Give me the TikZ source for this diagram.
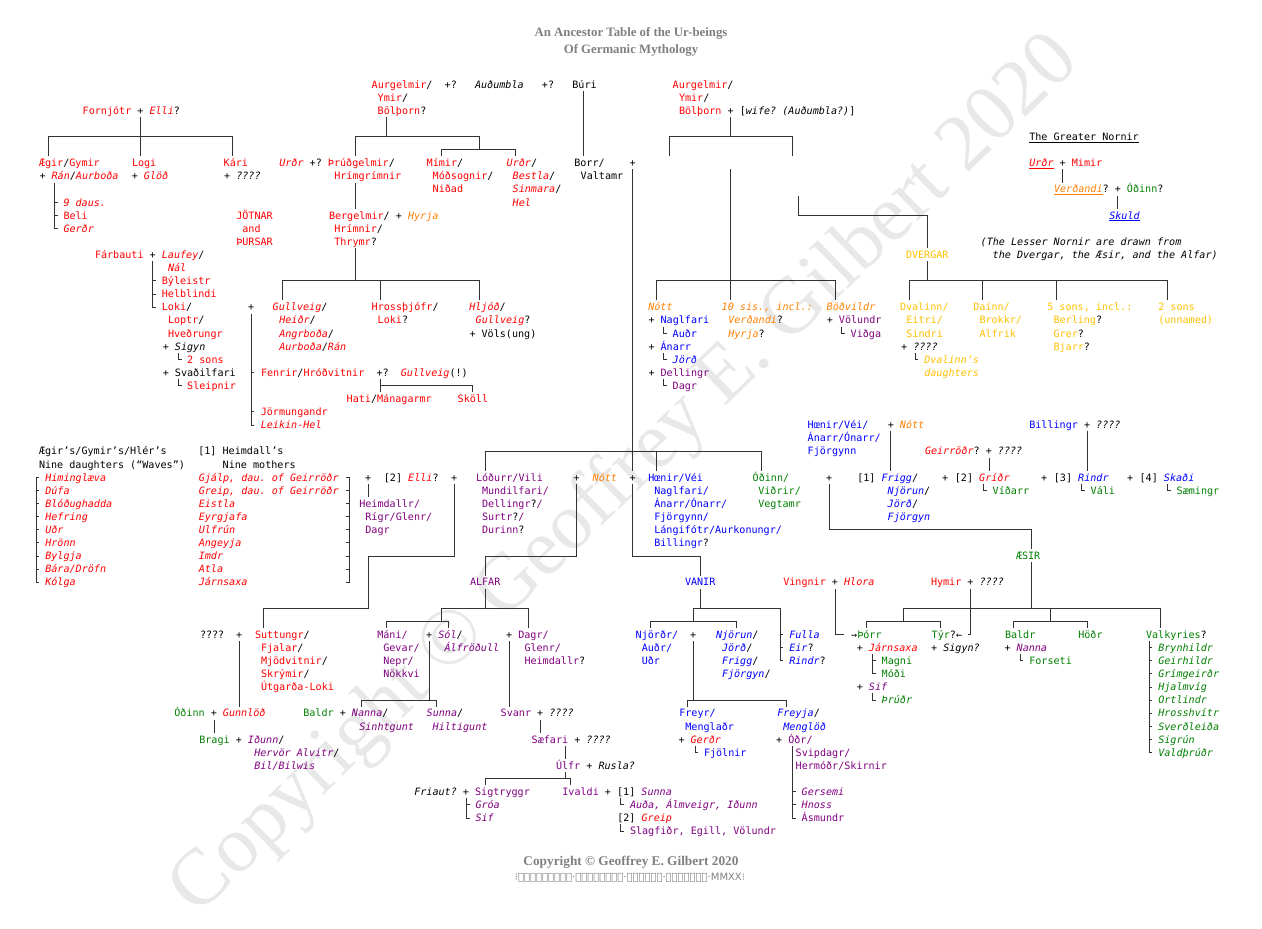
\documentclass[tikz,border=0pt]{standalone}
\usepackage{fontspec}
\setmonofont{DejaVu Sans Mono}
\newfontfamily\serifT{Liberation Serif}
\newfontfamily\runeF{DejaVu Sans}
\definecolor{cR}{RGB}{255,0,0}
\definecolor{cO}{RGB}{255,128,0}
\definecolor{cY}{RGB}{255,192,0}
\definecolor{cP}{RGB}{128,0,128}
\definecolor{cB}{RGB}{0,0,255}
\definecolor{cG}{RGB}{0,128,0}
\definecolor{cT}{RGB}{128,128,128}
\definecolor{cW}{RGB}{232,232,232}
\newcommand\xr[1]{\textcolor{cR}{#1}}
\newcommand\xri[1]{\textcolor{cR}{\itshape #1}}
\newcommand\xoi[1]{\textcolor{cO}{\itshape #1}}
\newcommand\xy[1]{\textcolor{cY}{#1}}
\newcommand\xyi[1]{\textcolor{cY}{\itshape #1}}
\newcommand\xp[1]{\textcolor{cP}{#1}}
\newcommand\xpi[1]{\textcolor{cP}{\itshape #1}}
\newcommand\xb[1]{\textcolor{cB}{#1}}
\newcommand\xbi[1]{\textcolor{cB}{\itshape #1}}
\newcommand\xg[1]{\textcolor{cG}{#1}}
\newcommand\xgi[1]{\textcolor{cG}{\itshape #1}}
\newcommand\xk[1]{{\itshape #1}}
\tikzset{
 t/.style={anchor=base west,inner sep=0pt,outer sep=0pt,yshift=-3.8pt,font=\ttfamily\fontsize{10.1}{12}\selectfont,text=black},
 ln/.style={draw=black!80,line width=0.75pt},
 ttl/.style={font=\serifT\bfseries\fontsize{12.8}{14}\selectfont,text=cT,inner sep=0pt},
}
\newcommand\nd[4]{\node[t] (#1) at (#2,#3) {#4};}
\begin{document}
\begin{tikzpicture}[x=1pt,y=-13.1pt]
\fill[white] (0,-6.43511) rectangle (1262,64.4809);
\useasboundingbox (0,-6.43511) rectangle (1262,64.4809);
% watermark
\node[rotate=44,text=cW,font=\serifT\fontsize{80}{84}\selectfont] (wm) at (626,29.9) {Copyright © Geoffrey E. Gilbert 2020};
% title and footer
\node[ttl] (title1) at (631,-3.92) {An Ancestor Table of the Ur-beings};
\node[ttl] (title2) at (631,-2.55) {Of Germanic Mythology};
\node[ttl,font=\serifT\bfseries\fontsize{13.3}{15}\selectfont] (copy) at (631,59.37) {Copyright © Geoffrey E. Gilbert 2020};
\node[text=cT,font=\runeF\fontsize{10}{12}\selectfont,inner sep=0pt] (runes) at (630,60.59) {⁝ᚲᛟᛈᛃᚱᛁᚷᚺᛏ·ᚷᛖᛟᚠᚠᚱᛖᛃ·ᛖᛞᚹᚨᚱᛞ·ᚷᛁᛚᛒᛖᚱᛏ·MMXX⁝};
% ---------- text ----------
\nd{aurg}{371.7}{0}{\xr{Aurgelmir}/~~+?~~~\xk{Auðumbla}~~~+?~~~Búri}
\nd{ymir}{377.7}{1}{\xr{Ymir}/}
\nd{bolth}{377.7}{2}{\xr{Bölþorn}?}
\nd{aurgR}{672.7}{0}{\xr{Aurgelmir}/}
\nd{ymirR}{679}{1}{\xr{Ymir}/}
\nd{bolthR}{679}{2}{\xr{Bölþorn} + [\xk{wife? (Auðumbla?)}]}
\nd{fornj}{82.7}{2}{\xr{Fornjótr} + \xri{Elli}?}
\nd{aegir}{39}{6}{\xr{Ægir}/\xr{Gymir}}
\nd{ran}{39.5}{7}{+ \xri{Rán}/\xri{Aurboða}}
\nd{logi}{132}{6}{\xr{Logi}}
\nd{glod}{131.8}{7}{+ \xri{Glöð}}
\nd{kari}{223.7}{6}{\xr{Kári}}
\nd{karw}{224.1}{7}{+ \xk{????}}
\nd{daus}{63.5}{9}{\xri{9 daus.}}
\nd{beli}{63.5}{10}{\xr{Beli}}
\nd{gerdA}{63.5}{11}{\xri{Gerðr}}
\nd{jot1}{236.3}{10}{\xr{JÖTNAR}}
\nd{jot2}{242.4}{11}{\xr{and}}
\nd{jot3}{236.3}{12}{\xr{ÞURSAR}}
\nd{farb}{95}{13}{\xr{Fárbauti} + \xri{Laufey}/}
\nd{nal}{168}{14}{\xri{Nál}}
\nd{byl}{161.9}{15}{\xr{Býleistr}}
\nd{helb}{161.9}{16}{\xr{Helblindi}}
\nd{loki}{161.9}{17}{\xr{Loki}/}
\nd{loptr}{168}{18}{\xr{Loptr}/}
\nd{hved}{168}{19}{\xr{Hveðrungr}}
\nd{sigynA}{162.8}{20}{+ \xk{Sigyn}}
\nd{sons2}{187.2}{21}{\xr{2 sons}}
\nd{svad}{162.8}{22}{+ Svaðilfari}
\nd{sleip}{187.2}{23}{\xr{Sleipnir}}
\nd{urdA}{279.3}{6}{\xri{Urðr} +? \xr{Þrúðgelmir}/}
\nd{hrimg}{334.3}{7}{\xr{Hrímgrímnir}}
\nd{mimA}{426.7}{6}{\xr{Mímir}/}
\nd{modA}{432.7}{7}{\xr{Móðsognir}/}
\nd{nidA}{432.7}{8}{\xr{Niðad}}
\nd{urdB}{506.7}{6}{\xri{Urðr}/}
\nd{bestA}{512.7}{7}{\xri{Bestla}/}
\nd{sinA}{512.7}{8}{\xri{Sinmara}/}
\nd{helA}{512.7}{9}{\xri{Hel}}
\nd{borr}{574.3}{6}{Borr/}
\nd{valt}{580.7}{7}{Valtamr}
\nd{borrp}{629.7}{6}{+}
\nd{bergel}{329}{10}{\xr{Bergelmir}/ + \xoi{Hyrja}}
\nd{hrimn}{334.3}{11}{\xr{Hrímnir}/}
\nd{thrym}{334.3}{12}{\xr{Thrymr}?}
\nd{gullp}{248}{17}{+}
\nd{gullA}{272.7}{17}{\xri{Gullveig}/}
\nd{heidr}{279.3}{18}{\xri{Heiðr}/}
\nd{angr}{279.3}{19}{\xri{Angrboða}/}
\nd{aurbo}{279.3}{20}{\xri{Aurboða}/\xri{Rán}}
\nd{hross}{371.7}{17}{\xr{Hrossþjófr}/}
\nd{lokiB}{377.7}{18}{\xr{Loki}?}
\nd{hljod}{469.3}{17}{\xri{Hljóð}/}
\nd{gullB}{475.7}{18}{\xri{Gullveig}?}
\nd{vols}{469.5}{19}{+ Völs(ung)}
\nd{fenrir}{261}{22}{\xr{Fenrir}/\xr{Hróðvitnir}~~+?~~\xri{Gullveig}(!)}
\nd{hati}{346.7}{24}{\xr{Hati}/\xr{Mánagarmr}}
\nd{skoll}{457.7}{24}{\xr{Sköll}}
\nd{jorm}{260.8}{25}{\xr{Jörmungandr}}
\nd{leik}{260.8}{26}{\xri{Leikin-Hel}}
% nine daughters / mothers
\nd{aeg2}{39}{28}{Ægir’s/Gymir’s/Hlér’s}
\nd{nined}{39}{29}{Nine daughters (“Waves”)}
\nd{w1}{45.3}{30}{\xri{Himinglæva}}
\nd{w2}{45.3}{31}{\xri{Dúfa}}
\nd{w3}{45.3}{32}{\xri{Blóðughadda}}
\nd{w4}{45.3}{33}{\xri{Hefring}}
\nd{w5}{45.3}{34}{\xri{Uðr}}
\nd{w6}{45.3}{35}{\xri{Hrönn}}
\nd{w7}{45.3}{36}{\xri{Bylgja}}
\nd{w8}{45.3}{37}{\xri{Bára/Dröfn}}
\nd{w9}{45.3}{38}{\xri{Kólga}}
\nd{heim1}{198.3}{28}{[1] Heimdall’s}
\nd{ninem}{222.7}{29}{Nine mothers}
\nd{m1}{198.8}{30}{\xri{Gjálp, dau. of Geirröðr}}
\nd{m2}{198.8}{31}{\xri{Greip, dau. of Geirröðr}}
\nd{m3}{198.8}{32}{\xri{Eistla}}
\nd{m4}{198.8}{33}{\xri{Eyrgjafa}}
\nd{m5}{198.8}{34}{\xri{Ulfrún}}
\nd{m6}{198.8}{35}{\xri{Angeyja}}
\nd{m7}{198.8}{36}{\xri{Imdr}}
\nd{m8}{198.8}{37}{\xri{Atla}}
\nd{m9}{198.8}{38}{\xri{Járnsaxa}}
\nd{heimp}{365.2}{30}{+}
\nd{elli}{383.9}{30}{[2] \xri{Elli}?}
\nd{ellip}{451}{30}{+}
\nd{heimd}{359.3}{32}{\xp{Heimdallr/}}
\nd{rigr}{365.4}{33}{\xp{Rígr/Glenr/}}
\nd{dagrA}{365.4}{34}{\xp{Dagr}}
\nd{lodurr}{476}{30}{\xp{Lóðurr/Vili}}
\nd{mund}{482}{31}{\xp{Mundilfari/}}
\nd{dell}{482}{32}{\xp{Dellingr}?\xp{/}}
\nd{surtr}{482}{33}{\xp{Surtr}?\xp{/}}
\nd{durinn}{482}{34}{\xp{Durinn}?}
\nd{durp}{573.6}{30}{+}
\nd{nottA}{592.7}{30}{\xoi{Nótt}}
\nd{nottp}{629.7}{30}{+}
\nd{alfar}{470}{38}{\xp{ALFAR}}
\nd{hoenA}{648.3}{30}{\xb{Hœnir/Véi}}
\nd{nagA}{654.3}{31}{\xb{Naglfari/}}
\nd{anarA}{654.3}{32}{\xb{Ánarr/Ónarr/}}
\nd{fjorgA}{654.3}{33}{\xb{Fjörgynn/}}
\nd{lang}{654.3}{34}{\xb{Lángifótr/Aurkonungr/}}
\nd{billA}{654.3}{35}{\xb{Billingr}?}
\nd{odinA}{752.7}{30}{\xg{Óðinn/}}
\nd{vidrir}{758.3}{31}{\xg{Viðrir/}}
\nd{vegt}{758.3}{32}{\xg{Vegtamr}}
\nd{odinp}{826.2}{30}{+}
\nd{frigg}{857.3}{30}{[1] \xbi{Frigg}/}
\nd{njorA}{887.7}{31}{\xbi{Njörun}/}
\nd{jordA}{887.7}{32}{\xbi{Jörð}/}
\nd{fjgA}{887.7}{33}{\xbi{Fjörgyn}}
\nd{p2}{942}{30}{+}
\nd{gridr}{954.9}{30}{[2] \xri{Gríðr}}
\nd{vidarr}{992.7}{31}{\xg{Víðarr}}
\nd{p3}{1041}{30}{+}
\nd{rindA}{1053.9}{30}{[3] \xbi{Rindr}}
\nd{vali}{1090.7}{31}{\xg{Váli}}
\nd{p4}{1127}{30}{+}
\nd{skadi}{1139.6}{30}{[4] \xbi{Skaði}}
\nd{saem}{1176.7}{31}{\xg{Sæmingr}}
\nd{hoenB}{807.7}{26}{\xb{Hœnir/Véi/}}
\nd{anarB}{807.7}{27}{\xb{Ánarr/Ónarr/}}
\nd{fjorgB}{807.7}{28}{\xb{Fjörgynn}}
\nd{nottB}{887.8}{26}{+ \xoi{Nótt}}
\nd{geir}{925}{28}{\xri{Geirröðr}? + \xk{????}}
\nd{billB}{1029.3}{26}{\xb{Billingr} + \xk{????}}
% Nott and Dvergar group
\nd{nottC}{648.3}{17}{\xoi{Nótt}}
\nd{nagB}{648.5}{18}{+ \xb{Naglfari}}
\nd{audrA}{672.7}{19}{\xb{Auðr}}
\nd{anarC}{648.5}{20}{+ \xb{Ánarr}}
\nd{jordB}{672.7}{21}{\xbi{Jörð}}
\nd{dellB}{648.5}{22}{+ \xp{Dellingr}}
\nd{dagrB}{672.7}{23}{\xp{Dagr}}
\nd{sis}{721.7}{17}{\xoi{10 sis., incl.:}}
\nd{verdA}{728.3}{18}{\xoi{Verðandi}?}
\nd{hyrja}{728.3}{19}{\xoi{Hyrja}?}
\nd{bodv}{826.7}{17}{\xoi{Böðvildr}}
\nd{volu}{826.8}{18}{+ \xp{Völundr}}
\nd{vidga}{850.7}{19}{\xp{Viðga}}
\nd{dverg}{906}{13}{\xy{DVERGAR}}
\nd{dval}{900}{17}{\xy{Dvalinn/}}
\nd{eitri}{906.4}{18}{\xy{Eitri/}}
\nd{sindri}{906.4}{19}{\xy{Sindri}}
\nd{dvalw}{901.1}{20}{+ \xk{????}}
\nd{dvald}{924.3}{21}{\xyi{Dvalinn’s}}
\nd{daug}{924.3}{22}{\xyi{daughters}}
\nd{dainn}{973.3}{17}{\xy{Daínn/}}
\nd{brokk}{979.5}{18}{\xy{Brokkr/}}
\nd{alfr}{979.5}{19}{\xy{Alfrik}}
\nd{sons5}{1047.3}{17}{\xy{5 sons, incl.:}}
\nd{berl}{1053.5}{18}{\xy{Berling}?}
\nd{grer}{1053.5}{19}{\xy{Grer}?}
\nd{bjarr}{1053.5}{20}{\xy{Bjarr}?}
\nd{sons2b}{1158.3}{17}{\xy{2 sons}}
\nd{unn}{1158.3}{18}{\xy{(unnamed)}}
% Nornir
\nd{gnorn}{1029.3}{4}{\underline{The Greater Nornir}}
\nd{urdC}{1029.3}{6}{\textcolor{cR}{\itshape\underline{Urðr}} + \xr{Mimir}}
\nd{verdB}{1054}{8}{\textcolor{cO}{\itshape\underline{Verðandi}}? + \xg{Óðinn}?}
\nd{skuld}{1109.3}{10}{\textcolor{cB}{\itshape\underline{Skuld}}}
\nd{less1}{980.7}{12}{\xk{(The Lesser Nornir are drawn from}}
\nd{less2}{992.7}{13}{\xk{the Dvergar, the Æsir, and the Alfar)}}
% lower left
\nd{qq}{200}{42}{????}
\nd{suttp}{236.2}{42}{+}
\nd{sutt}{255}{42}{\xr{Suttungr}/}
\nd{fjal}{261}{43}{\xr{Fjalar}/}
\nd{mjod}{261}{44}{\xr{Mjödvitnir}/}
\nd{skry}{261}{45}{\xr{Skrýmir}/}
\nd{utg}{261}{46}{\xr{Útgarða-Loki}}
\nd{odinB}{174.3}{48}{\xg{Óðinn} + \xri{Gunnlöð}}
\nd{bragi}{199.3}{50}{\xg{Bragi} + \xpi{Iðunn}/}
\nd{herv}{254.3}{51}{\xpi{Hervör Alvitr}/}
\nd{bil}{254.3}{52}{\xpi{Bil/Bilwis}}
\nd{baldA}{303.3}{48}{\xg{Baldr} + \xpi{Nanna}/}
\nd{sinh}{359.3}{49}{\xpi{Sinhtgunt}}
\nd{sunA}{426.7}{48}{\xpi{Sunna}/}
\nd{hilt}{432.7}{49}{\xpi{Hiltigunt}}
\nd{mani}{377.3}{42}{\xp{Máni/}}
\nd{gevar}{383.3}{43}{\xp{Gevar/}}
\nd{nepr}{383.3}{44}{\xp{Nepr/}}
\nd{nokk}{383.3}{45}{\xp{Nökkvi}}
\nd{sol}{426.2}{42}{+ \xpi{Sól}/}
\nd{alfrod}{444.5}{43}{\xpi{Álfröðull}}
\nd{dagp}{506.2}{42}{+}
\nd{dagrC}{518.3}{42}{\xp{Dagr/}}
\nd{glenr}{524.5}{43}{\xp{Glenr/}}
\nd{heimB}{524.5}{44}{\xp{Heimdallr}?}
\nd{svanr}{500.7}{48}{\xp{Svanr} + \xk{????}}
\nd{saef}{531.7}{50}{\xp{Sæfari} + \xk{????}}
\nd{ulfr}{556}{52}{\xp{Úlfr} + \xk{Rusla?}}
\nd{friaut}{414.3}{54}{\xk{Friaut?} + \xp{Sigtryggr}}
\nd{groa}{475.5}{55}{\xpi{Gróa}}
\nd{sifA}{475.5}{56}{\xpi{Sif}}
\nd{ivaldi}{562.4}{54}{\xp{Ivaldi} + [1] \xpi{Sunna}}
\nd{auda}{630}{55}{\xpi{Auða, Álmveigr, Iðunn}}
\nd{greip}{617.3}{56}{[2] \xri{Greip}}
\nd{slag}{630}{57}{\xp{Slagfiðr, Egill, Völundr}}
% Vanir
\nd{vanir}{685}{38}{\xb{VANIR}}
\nd{njordr}{635.7}{42}{\xb{Njörðr/}}
\nd{audrB}{641.8}{43}{\xb{Auðr/}}
\nd{udr}{641.8}{44}{\xb{Uðr}}
\nd{njp}{690.2}{42}{+}
\nd{njorB}{716}{42}{\xbi{Njörun}/}
\nd{jordC}{722}{43}{\xbi{Jörð}/}
\nd{friggB}{722}{44}{\xbi{Frigg}/}
\nd{fjgB}{722}{45}{\xbi{Fjörgyn}/}
\nd{fulla}{789.3}{42}{\xbi{Fulla}}
\nd{eir}{789.3}{43}{\xbi{Eir}?}
\nd{rindB}{789.3}{44}{\xbi{Rindr}?}
\nd{freyr}{679.3}{48}{\xb{Freyr/}}
\nd{mengl}{685.4}{49}{\xb{Menglaðr}}
\nd{gerdB}{678.5}{50}{+ \xri{Gerðr}}
\nd{fjol}{704}{51}{\xb{Fjölnir}}
\nd{freyja}{777.3}{48}{\xbi{Freyja}/}
\nd{menglod}{783.4}{49}{\xbi{Menglöð}}
\nd{odr}{776.1}{50}{+ \xp{Óðr/}}
\nd{svip}{795.7}{51}{\xp{Svipdagr/}}
\nd{herm}{795.7}{52}{\xp{Hermóðr/Skirnir}}
\nd{gers}{801.7}{54}{\xpi{Gersemi}}
\nd{hnoss}{801.7}{55}{\xpi{Hnoss}}
\nd{asm}{801.7}{56}{\xp{Ásmundr}}
% Aesir
\nd{aesir}{1016}{36}{\xg{ÆSIR}}
\nd{vingn}{783.3}{38}{\xr{Vingnir} + \xri{Hlora}}
\nd{hymir}{931}{38}{\xr{Hymir} + \xk{????}}
\nd{thorr}{851.2}{42}{→\xg{Þórr}}
\nd{jarn}{856.8}{43}{+ \xri{Járnsaxa}}
\nd{magni}{881.7}{44}{\xg{Magni}}
\nd{modi}{881.7}{45}{\xg{Móði}}
\nd{sifB}{856.8}{46}{+ \xpi{Sif}}
\nd{thrudr}{881.7}{47}{\xgi{Þrúðr}}
\nd{tyr}{931.7}{42}{\xg{Týr}?←}
\nd{sigynB}{931.1}{43}{+ \xk{Sigyn?}}
\nd{baldB}{1005}{42}{\xg{Baldr}}
\nd{nannaB}{1004.5}{43}{+ \xpi{Nanna}}
\nd{fors}{1029.3}{44}{\xg{Forseti}}
\nd{hodr}{1078.3}{42}{\xg{Höðr}}
\nd{valk}{1146}{42}{\xg{Valkyries}?}
\nd{v1}{1158.3}{43}{\xgi{Brynhildr}}
\nd{v2}{1158.3}{44}{\xgi{Geirhildr}}
\nd{v3}{1158.3}{45}{\xgi{Grímgeirðr}}
\nd{v4}{1158.3}{46}{\xgi{Hjalmvíg}}
\nd{v5}{1158.3}{47}{\xgi{Ortlindr}}
\nd{v6}{1158.3}{48}{\xgi{Hrosshvítr}}
\nd{v7}{1158.3}{49}{\xgi{Sverðleiða}}
\nd{v8}{1158.3}{50}{\xgi{Sigrún}}
\nd{v9}{1158.3}{51}{\xgi{Valdþrúðr}}
% ---------- connectors ----------
\draw[ln] (140.7,2.5)--(140.7,5.5);
\draw[ln] (48.7,5.5)--(48.7,4)--(232.7,4)--(232.7,5.5);
\draw[ln] (54.3,7.5)--(54.3,11)--(57.5,11) (54.3,9)--(57.5,9) (54.3,10)--(57.5,10);
\draw[ln] (152.7,13.5)--(152.7,17)--(155.9,17) (152.7,15)--(155.9,15) (152.7,16)--(155.9,16);
\draw[ln] (178.3,20.5)--(178.3,21)--(181.5,21) (178.3,22.5)--(178.3,23)--(181.5,23);
\draw[ln] (386.7,2.5)--(386.7,4);
\draw[ln] (355.7,5.5)--(355.7,4)--(479,4)--(479,5);
\draw[ln] (441.7,5.5)--(441.7,5)--(515.7,5)--(515.7,5.5);
\draw[ln] (583.3,0.5)--(583.3,5.5);
\draw[ln] (355.7,7.5)--(355.7,9.5);
\draw[ln] (355.7,12.5)--(355.7,15);
\draw[ln] (282.3,16.5)--(282.3,15)--(479,15)--(479,16.5) (380.7,15)--(380.7,16.5);
\draw[ln] (251,17.5)--(251,26)--(254.2,26) (251,22)--(254.2,22) (251,25)--(254.2,25);
\draw[ln] (380.7,22.5)--(380.7,23.5) (380.7,23)--(472.7,23)--(472.7,23.5);
\draw[ln] (39.2,30)--(36,30)--(36,38)--(39.2,38);
\foreach \r in {31,...,37} {\draw[ln] (36,\r)--(39.2,\r);}
\draw[ln] (346.1,30)--(349.3,30)--(349.3,38)--(346.1,38);
\foreach \r in {31,...,37} {\draw[ln] (346.1,\r)--(349.3,\r);}
\draw[ln] (368.3,30.5)--(368.3,31.5);
\draw[ln] (454,30.5)--(454,36)--(368.3,36)--(368.3,40)--(263.3,40)--(263.3,41.5);
\draw[ln] (576.7,30.5)--(576.7,36)--(485,36)--(485,37.5);
\draw[ln] (485,38.5)--(485,40);
\draw[ln] (485,29.5)--(485,28)--(761.7,28)--(761.7,29.5) (656.7,28)--(656.7,29.5);
\draw[ln] (632.7,6.5)--(632.7,29.5);
\draw[ln] (632.7,30.5)--(632.7,36)--(700,36)--(700,37.5);
\draw[ln] (700,38.5)--(700,40);
\draw[ln] (441.7,41)--(441.7,40)--(528.3,40)--(528.3,41.5);
\draw[ln] (386.7,41.5)--(386.7,41)--(448.3,41)--(448.3,41.5);
\draw[ln] (429.3,42.5)--(429.3,47);
\draw[ln] (361.7,47.5)--(361.7,47)--(436,47)--(436,47.5);
\draw[ln] (509.3,42.5)--(509.3,47.5);
\draw[ln] (540,48.5)--(540,49.5);
\draw[ln] (565,50.5)--(565,51.5);
\draw[ln] (565,52.5)--(565,53);
\draw[ln] (485,53.5)--(485,53)--(570.7,53)--(570.7,53.5);
\draw[ln] (466.7,54.5)--(466.7,56)--(469.9,56) (466.7,55)--(469.9,55);
\draw[ln] (620.8,54.5)--(620.8,55)--(624,55) (620.8,56.5)--(620.8,57)--(624,57);
\draw[ln] (239.3,42.5)--(239.3,47.5);
\draw[ln] (214.3,48.5)--(214.3,49.5);
\draw[ln] (730.7,2.5)--(730.7,4);
\draw[ln] (669.3,5.5)--(669.3,4)--(792.3,4)--(792.3,5.5);
\draw[ln] (730.7,6.5)--(730.7,16.5);
\draw[ln] (656.7,16.5)--(656.7,15)--(835.7,15)--(835.7,16.5);
\draw[ln] (798.3,8.5)--(798.3,10)--(927.3,10)--(927.3,12.5);
\draw[ln] (927.3,13.5)--(927.3,15);
\draw[ln] (909,16.5)--(909,15)--(1167.7,15)--(1167.7,16.5) (982.7,15)--(982.7,16.5) (1056,15)--(1056,16.5);
\draw[ln] (663.5,18.5)--(663.5,19)--(666.7,19) (663.5,20.5)--(663.5,21)--(666.7,21) (663.5,22.5)--(663.5,23)--(666.7,23);
\draw[ln] (841.6,18.5)--(841.6,19)--(844.8,19);
\draw[ln] (915.2,20.5)--(915.2,21)--(918.4,21);
\draw[ln] (1062.7,6.5)--(1062.7,7.5) (1117.7,8.5)--(1117.7,9.5);
\draw[ln] (890,26.5)--(890,29.5) (989,28.5)--(989,29.5) (1087.7,26.5)--(1087.7,29.5);
\draw[ln] (983.5,30.5)--(983.5,31)--(986.7,31) (1081.6,30.5)--(1081.6,31)--(1084.8,31) (1167.6,30.5)--(1167.6,31)--(1170.8,31);
\draw[ln] (829.3,30.5)--(829.3,34)--(1031.7,34)--(1031.7,35.5);
\draw[ln] (1031.7,36.5)--(1031.7,40);
\draw[ln] (903.3,41)--(903.3,40)--(1160.7,40)--(1160.7,41.5);
\draw[ln] (866,41.5)--(866,41)--(940,41)--(940,41.5);
\draw[ln] (1050,40)--(1050,41);
\draw[ln] (1013.3,41.5)--(1013.3,41)--(1087.3,41)--(1087.3,41.5);
\draw[ln] (970.7,38.5)--(970.7,42)--(967.5,42);
\draw[ln] (835,38.5)--(835,42)--(843.5,42);
\draw[ln] (872.6,43.5)--(872.6,45)--(875.8,45) (872.6,44)--(875.8,44) (872.6,46.5)--(872.6,47)--(875.8,47);
\draw[ln] (1020.2,43.5)--(1020.2,44)--(1023.4,44);
\draw[ln] (1149.2,42.5)--(1149.2,51)--(1152.4,51);
\foreach \r in {43,...,50} {\draw[ln] (1149.2,\r)--(1152.4,\r);}
\draw[ln] (693.3,41)--(693.3,40)--(780,40)--(780,44)--(783.2,44) (780,42)--(783.2,42) (780,43)--(783.2,43);
\draw[ln] (650.7,41.5)--(650.7,41)--(736.7,41)--(736.7,41.5);
\draw[ln] (693.3,42.5)--(693.3,47);
\draw[ln] (687.3,47.5)--(687.3,47)--(786,47)--(786,47.5);
\draw[ln] (694.9,50.5)--(694.9,51)--(698.1,51);
\draw[ln] (792.6,50.5)--(792.6,56)--(795.8,56) (792.6,54)--(795.8,54) (792.6,55)--(795.8,55);
\end{tikzpicture}
\end{document}
